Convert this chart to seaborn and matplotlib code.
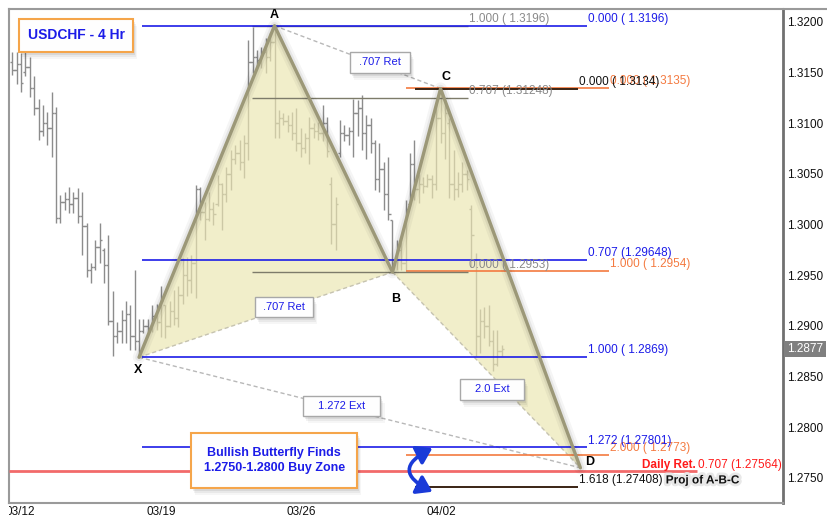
import numpy as np
import matplotlib
matplotlib.use("Agg")
import matplotlib.pyplot as plt
import matplotlib.patheffects as pe
from matplotlib.patches import Rectangle, FancyArrowPatch
from matplotlib.lines import Line2D
from matplotlib.transforms import Bbox, TransformedBbox
import seaborn as sns

# ---------------- USDCHF 4-hour bars ----------------
highs = [
    1.3170, 1.3170, 1.3169, 1.3170, 1.3165, 1.3146, 1.3124, 1.3118, 1.3111, 1.3131,
    1.3116, 1.3029, 1.3032, 1.3037, 1.3032, 1.3036, 1.3032, 1.3001, 1.2962, 1.2985,
    1.3001, 1.2977, 1.2990, 1.2934, 1.2904, 1.2916, 1.2925, 1.2921, 1.2955, 1.2907,
    1.2907, 1.2907, 1.2921, 1.2922, 1.2939, 1.2921, 1.2925, 1.2935, 1.2939, 1.2967,
    1.2968, 1.2970, 1.3039, 1.3037, 1.3022, 1.3032, 1.3022, 1.3049, 1.3041, 1.3057,
    1.3073, 1.3078, 1.3083, 1.3088, 1.3182, 1.3195, 1.3172, 1.3175, 1.3184, 1.3189,
    1.3196, 1.3113, 1.3110, 1.3108, 1.3111, 1.3115, 1.3095, 1.3090, 1.3106, 1.3100,
    1.3101, 1.3118, 1.3106, 1.3047, 1.3027, 1.3103, 1.3098, 1.3096, 1.3124, 1.3123,
    1.3128, 1.3108, 1.3105, 1.3083, 1.3080, 1.3062, 1.3067, 1.3004, 1.2985, 1.2983,
    1.3024, 1.3070, 1.3083, 1.3050, 1.3047, 1.3050, 1.3049, 1.3120, 1.3134, 1.3123,
    1.3105, 1.3073, 1.3052, 1.3062, 1.3054, 1.3019, 1.2972, 1.2917, 1.2919, 1.2921,
    1.2896, 1.2896, 1.2881,
]
lows = [
    1.3147, 1.3139, 1.3131, 1.3146, 1.3126, 1.3108, 1.3083, 1.3087, 1.3078, 1.3067,
    1.3001, 1.3001, 1.3014, 1.3011, 1.3011, 1.3001, 1.2970, 1.2948, 1.2942, 1.2955,
    1.2962, 1.2942, 1.2901, 1.2870, 1.2883, 1.2883, 1.2883, 1.2876, 1.2876, 1.2869,
    1.2893, 1.2894, 1.2894, 1.2896, 1.2889, 1.2888, 1.2899, 1.2901, 1.2899, 1.2922,
    1.2929, 1.2932, 1.2927, 1.3004, 1.2985, 1.3003, 1.2999, 1.3018, 1.2995, 1.3022,
    1.3034, 1.3060, 1.3054, 1.3046, 1.3064, 1.3149, 1.3156, 1.3154, 1.3149, 1.3161,
    1.3085, 1.3085, 1.3098, 1.3091, 1.3083, 1.3072, 1.3067, 1.3070, 1.3060, 1.3085,
    1.3083, 1.3082, 1.3067, 1.2981, 1.2975, 1.3067, 1.3082, 1.3078, 1.3067, 1.3087,
    1.3073, 1.3065, 1.3070, 1.3034, 1.3032, 1.3014, 1.3004, 1.2953, 1.2955, 1.2955,
    1.2955, 1.3018, 1.3024, 1.3021, 1.3031, 1.3037, 1.3026, 1.3034, 1.3080, 1.3065,
    1.3026, 1.3024, 1.3027, 1.3032, 1.3034, 1.2958, 1.2870, 1.2873, 1.2888, 1.2880,
    1.2855, 1.2860, 1.2870,
]
opens = [
    1.3160, 1.3152, 1.3158, 1.3150, 1.3155, 1.3135, 1.3115, 1.3092, 1.3100, 1.3095,
    1.3110, 1.3006, 1.3022, 1.3025, 1.3020, 1.3026, 1.3008, 1.2998, 1.2955, 1.2958,
    1.2978, 1.2975, 1.2960, 1.2905, 1.2890, 1.2895, 1.2906, 1.2912, 1.2890, 1.2885,
    1.2895, 1.2900, 1.2898, 1.2910, 1.2904, 1.2921, 1.2900, 1.2915, 1.2908, 1.2930,
    1.2950, 1.2945, 1.2962, 1.3035, 1.3012, 1.3005, 1.3015, 1.3020, 1.3040, 1.3030,
    1.3050, 1.3065, 1.3070, 1.3062, 1.3080, 1.3160, 1.3165, 1.3162, 1.3170, 1.3165,
    1.3180, 1.3100, 1.3105, 1.3102, 1.3098, 1.3090, 1.3080, 1.3075, 1.3085, 1.3095,
    1.3092, 1.3090, 1.3100, 1.3040, 1.3000, 1.3070, 1.3090, 1.3088, 1.3092, 1.3110,
    1.3115, 1.3090, 1.3098, 1.3080, 1.3045, 1.3055, 1.3030, 1.3004, 1.2965, 1.2975,
    1.2962, 1.3020, 1.3060, 1.3035, 1.3040, 1.3038, 1.3045, 1.3040, 1.3105, 1.3090,
    1.3100, 1.3040, 1.3035, 1.3040, 1.3050, 1.3015, 1.2965, 1.2890, 1.2905, 1.2900,
    1.2885, 1.2862, 1.2875,
]
closes = [
    1.3152, 1.3158, 1.3140, 1.3155, 1.3135, 1.3115, 1.3092, 1.3100, 1.3095, 1.3110,
    1.3006, 1.3022, 1.3025, 1.3020, 1.3026, 1.3008, 1.2998, 1.2955, 1.2958, 1.2978,
    1.2985, 1.2960, 1.2905, 1.2890, 1.2895, 1.2906, 1.2912, 1.2890, 1.2885, 1.2895,
    1.2900, 1.2898, 1.2910, 1.2904, 1.2925, 1.2900, 1.2915, 1.2908, 1.2930, 1.2950,
    1.2945, 1.2962, 1.3035, 1.3012, 1.3005, 1.3015, 1.3010, 1.3040, 1.3030, 1.3050,
    1.3065, 1.3070, 1.3062, 1.3080, 1.3160, 1.3165, 1.3162, 1.3170, 1.3165, 1.3180,
    1.3100, 1.3105, 1.3102, 1.3098, 1.3090, 1.3080, 1.3075, 1.3085, 1.3095, 1.3092,
    1.3090, 1.3100, 1.3072, 1.3000, 1.3020, 1.3090, 1.3088, 1.3092, 1.3110, 1.3115,
    1.3090, 1.3098, 1.3080, 1.3045, 1.3055, 1.3030, 1.3010, 1.2965, 1.2975, 1.2962,
    1.3015, 1.3060, 1.3035, 1.3040, 1.3038, 1.3045, 1.3040, 1.3105, 1.3090, 1.3110,
    1.3040, 1.3035, 1.3040, 1.3050, 1.3045, 1.2990, 1.2890, 1.2905, 1.2900, 1.2885,
    1.2862, 1.2875, 1.2877,
]
last_price = 1.2877

# ---------------- butterfly pivots ----------------
pivot_names = ["X", "A", "B", "C", "D"]
pivot_bars = [29, 60, 87, 98, 130]
pivot_prices = [1.2869, 1.3196, 1.2953, 1.3134, 1.2760]

# ---------------- fibonacci levels (ratio, price) ----------------
xa_levels = [(0.000, 1.3196), (0.707, 1.29648), (1.000, 1.2869), (1.272, 1.27801)]
ab_levels = [(1.000, 1.3196), (0.707, 1.31248), (0.000, 1.2953)]
bc_levels = [(0.000, 1.3135), (1.000, 1.2954), (2.000, 1.2773)]
abc_proj_levels = [(0.000, 1.3134), (1.618, 1.27408)]
daily_ret_level = (0.707, 1.27564)

# ---------------- axes ticks ----------------
date_ticks = [1.9, 34.0, 66.1, 98.2]
date_labels = ["03/12", "03/19", "03/26", "04/02"]
price_ticks = [1.3200, 1.3150, 1.3100, 1.3050, 1.3000, 1.2950,
               1.2900, 1.2850, 1.2800, 1.2750]

# ---------------- style ----------------
sns.set_theme(style="white")
plt.rcParams["font.family"] = ["Liberation Sans", "DejaVu Sans"]

BLUE = "#1c1ce8"
ORANGE = "#f47a40"
GRAY_TXT = "#8a8a8a"
RED_LINE = "#f26a6a"
RED_TXT = "#ff1a1a"
BAR = "#8c8c8c"
LEG = "#9c9878"
FILL = "#ebe6b2"

fig = plt.figure(figsize=(8.27, 5.17), dpi=100)
ax = fig.add_axes([9 / 827, 14 / 517, 774 / 827, 494 / 517])
ax.set_xlim(-0.755, 176.36)
ax.set_ylim(1.27253, 1.32125)
ax.set_facecolor("white")

# OHLC bars
idx = np.arange(len(highs))
ax.vlines(idx, lows, highs, color=BAR, lw=1.0, zorder=2)
ax.hlines(opens, idx - 0.55, idx, color=BAR, lw=1.0, zorder=2)
ax.hlines(closes, idx, idx + 0.55, color=BAR, lw=1.0, zorder=2)

# shaded triangles X-A-B and B-C-D
for tri in ((0, 1, 2), (2, 3, 4)):
    ax.fill([pivot_bars[i] for i in tri], [pivot_prices[i] for i in tri],
            color=FILL, alpha=0.68, lw=0, zorder=3)
    i0, i2 = tri[0], tri[2]
    ax.plot([pivot_bars[i0], pivot_bars[i2]], [pivot_prices[i0], pivot_prices[i2]],
            color="#c6c3b0", lw=1.0, ls=(0, (3, 2)), zorder=3.5)

# dashed ratio connectors A-C and X-D
ax.plot([pivot_bars[1], pivot_bars[3]], [pivot_prices[1], pivot_prices[3]],
        color="#b8b8b8", lw=1.0, ls=(0, (3, 2)), zorder=3.5)
ax.plot([pivot_bars[0], pivot_bars[4]], [pivot_prices[0], pivot_prices[4]],
        color="#b8b8b8", lw=1.0, ls=(0, (3, 2)), zorder=3.5)


def fib_text(ratio, price):
    if abs(round(price, 4) - price) > 1e-9:
        s = f"{price:.5f}"
    else:
        s = f"{price:.4f}"
    return f"{ratio:.3f} ({s:>7})"


def fib_set(levels, x0, x1, line_color, text_color, lw, z=4):
    out = []
    for ratio, price in levels:
        ax.plot([x0, x1], [price, price], color=line_color, lw=lw, zorder=z,
                solid_capstyle="butt")
        t = ax.annotate(fib_text(ratio, price), xy=(x1, price), xytext=(0.8, 0.6),
                        textcoords="offset points", ha="left", va="bottom",
                        color=text_color, fontsize=8.5, zorder=z + 2)
        out.append(t)
    return out


fib_set(bc_levels, 90.1, 136.5, ORANGE, ORANGE, 1.2)
fib_set(ab_levels, 54.8, 104.3, "#7d7b6a", GRAY_TXT, 1.0)
fib_set(xa_levels, 29.7, 131.5, BLUE, BLUE, 1.2)
proj_txt = fib_set(abc_proj_levels, 92.2, 129.5, "#3a2414", "#111111", 1.4)

# daily retracement line and labels
ax.plot([ax.get_xlim()[0], 156.7], [daily_ret_level[1]] * 2, color=RED_LINE,
        lw=2.0, zorder=4, solid_capstyle="butt")
rt = ax.annotate(fib_text(*daily_ret_level), xy=(156.7, daily_ret_level[1]),
                 xytext=(0.8, 0.6), textcoords="offset points", ha="left",
                 va="bottom", color=RED_TXT, fontsize=8.5, zorder=6)
ax.annotate("Daily Ret.", xy=(0, 0), xycoords=rt, xytext=(-1.5, 0),
            textcoords="offset points", ha="right", va="bottom", color=RED_TXT,
            fontsize=8.5, fontweight="bold", zorder=6)
ax.annotate("Proj of A-B-C", xy=(1, 0), xycoords=proj_txt[1], xytext=(2, 0),
            textcoords="offset points", ha="left", va="bottom", color="#111111",
            fontsize=8.5, fontweight="bold", zorder=6,
            path_effects=[pe.withStroke(linewidth=4, foreground="#e8e8e8")])

# pattern legs X-A-B-C-D
sns.lineplot(x=pivot_bars, y=pivot_prices, sort=False, estimator=None,
             color=LEG, lw=2.4, ax=ax, zorder=5)
ax.lines[-1].set_path_effects([
    pe.Stroke(linewidth=9, foreground="#000000", alpha=0.04),
    pe.Stroke(linewidth=5.5, foreground="#000000", alpha=0.06),
    pe.Normal(),
])

# pivot letters
letter_offsets = {"X": (-0.7, -8.8), "A": (0, 7.4), "B": (2.5, -19.5),
                  "C": (3.9, 8.6), "D": (6.6, 4.3)}
for name, bx, py in zip(pivot_names, pivot_bars, pivot_prices):
    ax.annotate(name, xy=(bx, py), xytext=letter_offsets[name],
                textcoords="offset points", ha="center", va="center",
                fontsize=9, fontweight="bold", color="black", zorder=9)

# callout boxes
bb = ax.get_window_extent()
sx = (ax.get_xlim()[1] - ax.get_xlim()[0]) / bb.width
sy = (ax.get_ylim()[1] - ax.get_ylim()[0]) / bb.height


def callout(xc, yc, w_px, h_px, text, edge, lw, fontsize, weight):
    w, h = w_px * sx, h_px * sy
    for k, a in ((7, 0.035), (5, 0.05), (3, 0.07)):
        ax.add_patch(Rectangle((xc - w / 2 + k * 0.6 * sx, yc - h / 2 - k * sy),
                               w, h, fc="black", ec="none", alpha=a, zorder=7))
    ax.add_patch(Rectangle((xc - w / 2, yc - h / 2), w, h, fc="#fefefe",
                           ec=edge, lw=lw, zorder=8))
    ax.text(xc, yc, text, ha="center", va="center", color=BLUE,
            fontsize=fontsize, fontweight=weight, zorder=9, linespacing=1.35)


callout(14.58, 1.31864, 114, 33, "USDCHF - 4 Hr", "#f5a54a", 1.5, 10, "bold")
callout(59.9, 1.27673, 166, 55, "Bullish Butterfly Finds\n1.2750-1.2800 Buy Zone",
        "#f5a54a", 1.5, 9, "bold")
callout(84.1, 1.31598, 60, 21, ".707 Ret", "#a8a8a8", 1.0, 8, "normal")
callout(62.2, 1.29186, 58, 20, ".707 Ret", "#a8a8a8", 1.0, 8, "normal")
callout(75.4, 1.28205, 77, 20, "1.272 Ext", "#a8a8a8", 1.0, 8, "normal")
callout(109.8, 1.28373, 64, 21, "2.0 Ext", "#a8a8a8", 1.0, 8, "normal")

# curved double arrow marking the buy zone
arrow = FancyArrowPatch((96.7, 1.27806), (96.7, 1.27352),
                        connectionstyle="arc3,rad=1.05",
                        arrowstyle="<|-|>,head_length=0.9,head_width=0.6",
                        mutation_scale=10, color="#1a3ad8", lw=2.6, zorder=9)
ax.add_patch(arrow)

# axes: price scale on the right, dates along the bottom
ax.yaxis.tick_right()
ax.set_yticks(price_ticks)
ax.set_yticklabels([f"{p:.4f}" for p in price_ticks])
ax.set_xticks(date_ticks)
ax.set_xticklabels(date_labels)
ax.tick_params(axis="y", length=0, pad=3, labelsize=8.5, labelcolor="#111111")
ax.tick_params(axis="x", length=0, pad=2.5, labelsize=8.5, labelcolor="#111111")
ax.set_xlabel("")
ax.set_ylabel("")
first = ax.xaxis.get_major_ticks()[0].label1
first.set_clip_box(TransformedBbox(Bbox([[0, -0.2], [1, 0.05]]), ax.transAxes))
first.set_clip_on(True)

for side in ("left", "top", "bottom"):
    ax.spines[side].set_color("#9a9a9a")
    ax.spines[side].set_linewidth(1.5)
ax.spines["right"].set_color("#707070")
ax.spines["right"].set_linewidth(2.0)
fig.add_artist(Line2D([783 / 827, 1.0], [508 / 517, 508 / 517],
                      transform=fig.transFigure, color="#9a9a9a", lw=1.5))

# last price tag
ax.annotate(f"{last_price:.4f}", xy=(1, last_price),
            xycoords=("axes fraction", "data"), xytext=(3.2, 0),
            textcoords="offset points", ha="left", va="center", color="white",
            fontsize=8.5, annotation_clip=False,
            bbox=dict(boxstyle="square,pad=0.18", fc="#7f7f7f", ec="none"))

fig.savefig("out.png", dpi=100, facecolor="white")
